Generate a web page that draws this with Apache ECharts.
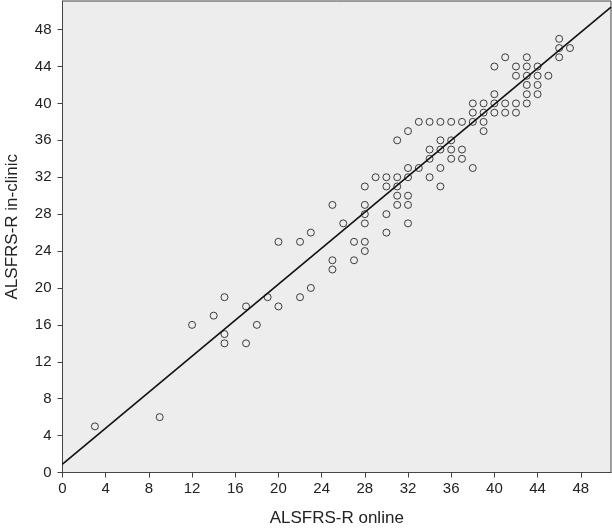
<!DOCTYPE html>
<html>
<head>
<meta charset="utf-8">
<script src="https://cdn.jsdelivr.net/npm/echarts@6/dist/echarts.min.js"></script>
<style>html,body{margin:0;padding:0;background:#fff}#c{width:612px;height:529px}</style>
</head>
<body>
<div id="c"></div>
<script>
// ALSFRS-R online (x) vs in-clinic (y)
const onlineScores = [3,9,12,14,15,15,15,17,17,18,19,20,20,22,22,23,23,
  25,25,25,26,27,27,28,28,28,28,28,28,
  29,30,30,30,30,31,31,31,31,31,32,32,32,32,32,32,
  33,33,34,34,34,34,35,35,35,35,35,36,36,36,36,37,37,37,38,38,38,38,39,39,39,39,
  40,40,40,40,41,41,41,42,42,42,42,43,43,43,43,43,43,44,44,44,44,45,46,46,46,47];
const clinicScores = [5,6,16,17,19,15,14,18,14,16,19,18,25,25,19,26,20,
  29,23,22,27,25,23,31,29,28,27,25,24,
  32,32,31,28,26,36,32,31,30,29,37,33,32,30,29,27,
  38,33,38,35,34,32,38,36,35,33,31,38,36,35,34,38,35,34,40,39,38,33,40,39,38,37,
  44,41,40,39,45,40,39,44,43,40,39,45,44,43,42,41,40,44,43,42,41,43,47,46,45,46];
const tickValues = [0,4,8,12,16,20,24,28,32,36,40,44,48];
const fitIntercept = 0.9;
const fitSlope = 0.975;
const xMax = 50.8, yMax = 51.1;

const points = onlineScores.map((v, i) => [v, clinicScores[i]]);
const fitLine = [[0, fitIntercept], [xMax, fitIntercept + fitSlope * xMax]];

const font = 'Liberation Sans, Arial, Helvetica, sans-serif';
const chart = echarts.init(document.getElementById('c'), null, {renderer: 'canvas'});
chart.setOption({
  animation: false,
  backgroundColor: '#ffffff',
  grid: {left: 62.5, right: 1, top: 1, bottom: 56.5, show: true, containLabel: false,
    outerBoundsMode: 'none',
    backgroundColor: '#ecedec', borderColor: '#444', borderWidth: 1},
  xAxis: {
    type: 'value', min: 0, max: xMax, interval: 4,
    name: 'ALSFRS-R online', nameLocation: 'middle', nameGap: 37,
    nameTextStyle: {fontFamily: font, fontSize: 17, color: '#222'},
    axisLine: {onZero: false, lineStyle: {color: '#444', width: 1}},
    axisTick: {length: 5, lineStyle: {color: '#444'}, customValues: tickValues},
    axisLabel: {fontFamily: font, fontSize: 15, color: '#222', margin: 9, customValues: tickValues},
    splitLine: {show: false}
  },
  yAxis: {
    type: 'value', min: 0, max: yMax, interval: 4,
    name: 'ALSFRS-R in-clinic', nameLocation: 'middle', nameGap: 42,
    nameTextStyle: {fontFamily: font, fontSize: 17, color: '#222', padding: [0, 0, 0, 20]},
    axisLine: {onZero: false, lineStyle: {color: '#444', width: 1}},
    axisTick: {length: 5, lineStyle: {color: '#444'}, customValues: tickValues},
    axisLabel: {fontFamily: font, fontSize: 15, color: '#222', margin: 11, customValues: tickValues},
    splitLine: {show: false}
  },
  series: [
    {type: 'line', data: fitLine, symbol: 'none', silent: true,
      lineStyle: {color: '#111', width: 1.6}, z: 2},
    {type: 'scatter', data: points, symbol: 'circle', symbolSize: 7,
      itemStyle: {color: 'rgba(0,0,0,0)', borderColor: '#111', borderWidth: 1}, z: 3}
  ]
});
</script>
</body>
</html>
